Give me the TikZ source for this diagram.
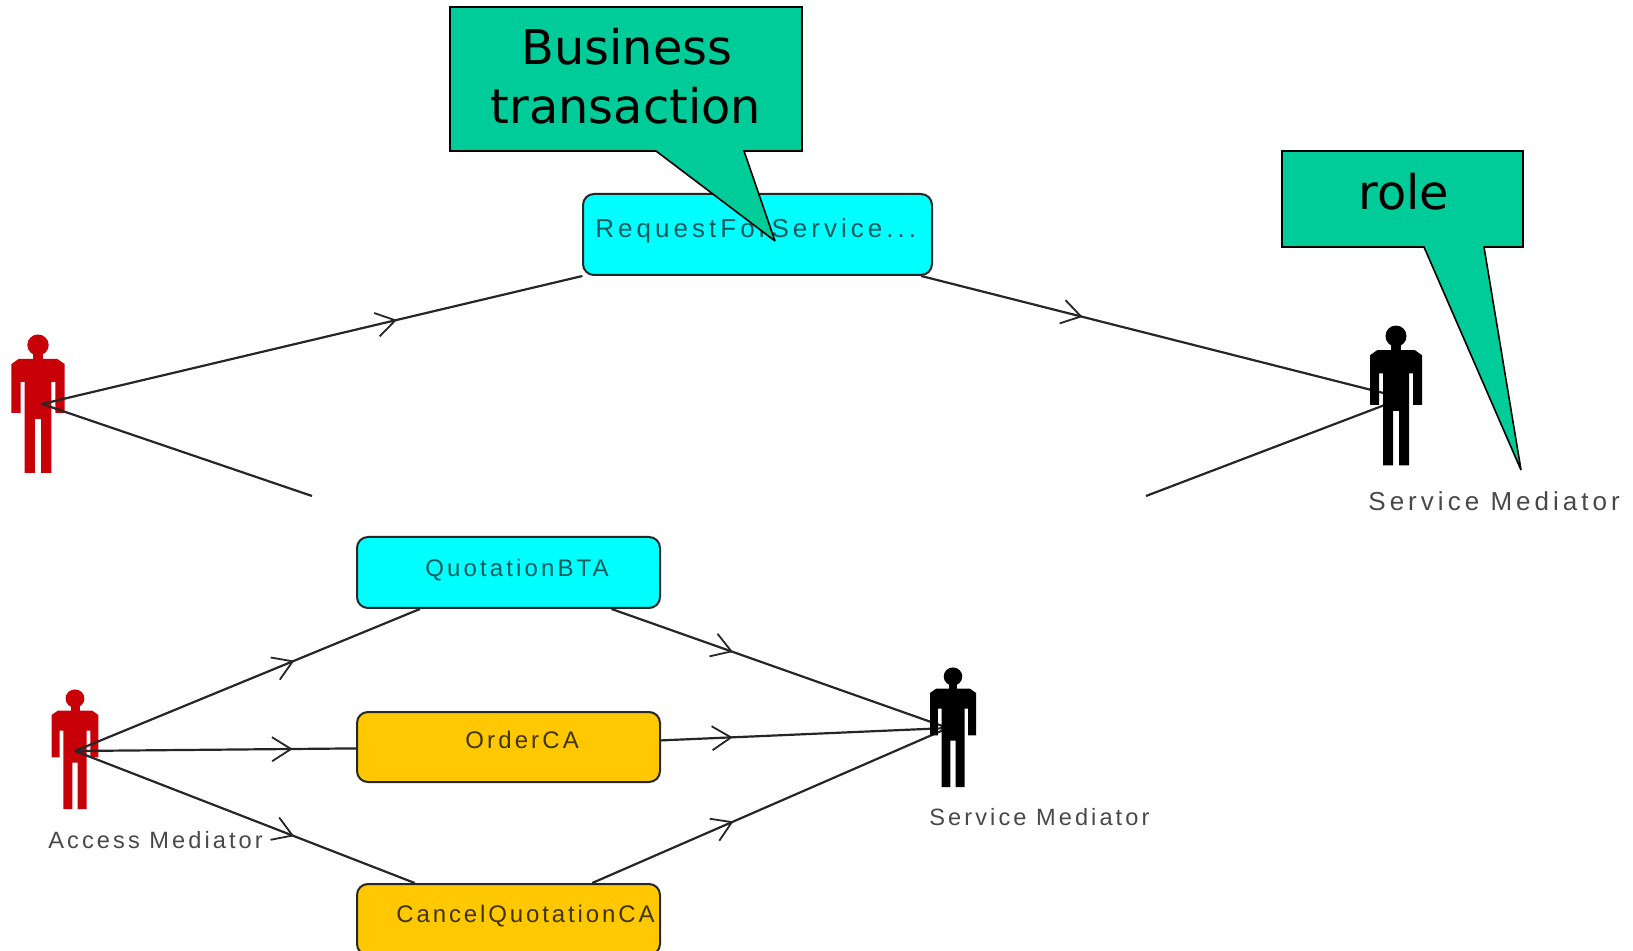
\documentclass[tikz,border=0pt]{standalone}
\usepackage{fontspec}
\setmainfont{Liberation Sans}
\newfontfamily\callfont{DejaVu Sans}
\newfontfamily\lblfont[LetterSpace=13]{Liberation Sans}
\newfontfamily\lblwide[LetterSpace=15.5]{Liberation Sans}
\newfontfamily\lblnarrow[LetterSpace=12]{Liberation Sans}
\usetikzlibrary{arrows.meta,decorations.markings}
\definecolor{callgreen}{HTML}{00CC99}
\definecolor{boxcyan}{HTML}{00FFFF}
\definecolor{boxorange}{HTML}{FFC800}
\definecolor{actred}{HTML}{C80008}
\definecolor{txtcyan}{HTML}{0C5A5E}
\definecolor{txtorange}{HTML}{403400}
\definecolor{txtgray}{HTML}{484848}
\tikzset{
  x=0.5pt,y=-0.5pt,
  bx/.style={draw=black!85,line width=1pt,rounded corners=5.5pt,inner sep=0pt},
  cyanbox/.style={bx,fill=boxcyan},
  orangebox/.style={bx,fill=boxorange},
  callout/.style={draw=black,line width=0.8pt,fill=callgreen,line join=miter,miter limit=3},
  calltext/.style={anchor=base,inner sep=0pt,font=\callfont\fontsize{23.9}{28}\selectfont},
  boxtext/.style={anchor=base west,inner sep=0pt,font=\lblwide\fontsize{13}{15}\selectfont},
  actorlabel/.style={anchor=base west,inner sep=0pt,text=txtgray,font=\lblfont\fontsize{11.8}{14}\selectfont},
  flow/.style={draw=black!85,line width=1.1pt,postaction={decorate},
    decoration={markings,mark=at position #1 with {\arrow{Straight Barb[length=9.5pt,width=12pt,line width=0.9pt]}}}},
  plain/.style={draw=black!85,line width=1.1pt},
  actor/.pic={
    \path[pic actions,draw=none] (0,11) circle[radius=10.5];
    \path[pic actions,draw=none] (-5,18) rectangle (5,27);
    \path[pic actions,draw=none] (-19,25) -- (19,25) -- (26,30) -- (26,79) -- (17,79) -- (17,48) -- (13,48) -- (13,139) -- (3,139) -- (3,85) -- (-3,85) -- (-3,139) -- (-13,139) -- (-13,48) -- (-17,48) -- (-17,79) -- (-26,79) -- (-26,30) -- cycle;
  }
}
\begin{document}
\begin{tikzpicture}
\useasboundingbox (0,0) rectangle (1633,951);
\clip (0,0) rectangle (1633,951);
% red actors
\pic[fill=actred,xscale=1.02] (ra) at (38,334) {actor};
\pic[fill=actred,xscale=0.9,yscale=0.865] (rb) at (75,689) {actor};
\coordinate (hubra) at (42,404);
\coordinate (hubba) at (1403,398);
\coordinate (hubrb) at (75,751);
\coordinate (hubbb) at (948,728);
\coordinate (cutl) at (312,496);
\coordinate (cutr) at (1146,496);
% boxes
\node[cyanbox,minimum width=174.5pt,minimum height=40.5pt] (rfs) at (757.5,234.5) {};
\node[cyanbox,minimum width=151.5pt,minimum height=35.5pt] (quo) at (508.5,572.5) {};
\node[orangebox,minimum width=151.5pt,minimum height=35pt] (ord) at (508.5,747) {};
\node[orangebox,minimum width=151.5pt,minimum height=35.5pt] (can) at (508.5,919.5) {};
% connectors
\draw[flow=0.657] (hubra) -- (rfs);
\draw[flow=0.335] (rfs) -- (hubba);
\draw[plain] (hubra) -- (cutl);
\draw[plain] (cutr) -- (hubba);
\draw[flow=0.636] (hubrb) -- (quo);
\draw[flow=0.775] (hubrb) -- (ord);
\draw[flow=0.645] (hubrb) -- (can);
\draw[flow=0.361] (quo) -- (hubbb);
\draw[flow=0.25] (ord) -- (hubbb);
\draw[flow=0.397] (can) -- (hubbb);
% black actors, over the connector ends
\pic[fill=black,xscale=1.0,yscale=1.01] (ba) at (1396,325) {actor};
\pic[fill=black,xscale=0.885,yscale=0.865] (bb) at (953,667) {actor};
% box texts
\node[boxtext,text=txtcyan] (trfs) at (595,238) {RequestForService...};
\node[boxtext,text=txtcyan,font=\lblfont\fontsize{12}{14}\selectfont] (tquo) at (425,577) {QuotationBTA};
\node[boxtext,text=txtorange,font=\lblfont\fontsize{12}{14}\selectfont] (tord) at (465,748) {OrderCA};
\node[boxtext,text=txtorange,font=\lblnarrow\fontsize{12}{14}\selectfont] (tcan) at (396,922) {CancelQuotationCA};
% actor labels
\node[actorlabel,font=\lblwide\fontsize{13}{15}\selectfont] (lsm1) at (1368,511) {Service Mediator};
\node[actorlabel] (lsm2) at (929,825) {Service Mediator};
\node[actorlabel] (lam) at (48,848) {Access Mediator};
% callouts
\draw[callout] (450,7) -- (802,7) -- (802,151) -- (744,151) -- (775,241) -- (656,151) -- (450,151) -- cycle;
\draw[callout] (1282,151) -- (1523,151) -- (1523,247) -- (1484,247) -- (1521,470) -- (1424,247) -- (1282,247) -- cycle;
\node[calltext] (cbus) at (627,65) {Business};
\node[calltext] (ctra) at (626,124) {transaction};
\node[calltext] (crol) at (1404,210) {role};
\end{tikzpicture}
\end{document}
